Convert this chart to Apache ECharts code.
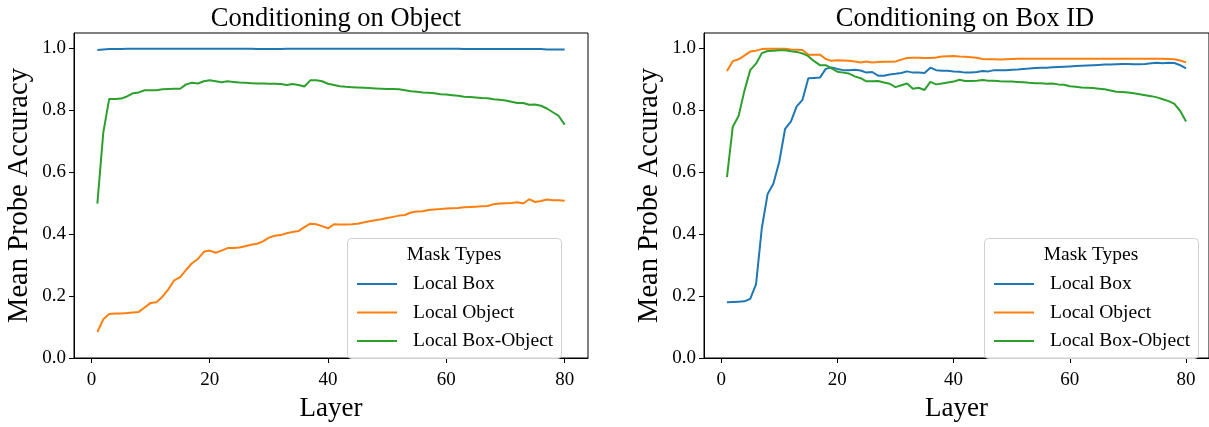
<!DOCTYPE html>
<html>
<head>
<meta charset="utf-8">
<script src="https://cdn.jsdelivr.net/npm/echarts@6/dist/echarts.min.js"></script>
<style>
html,body{margin:0;padding:0;background:#fff;}
#chart{width:1209px;height:427px;}
</style>
</head>
<body>
<div id="chart"></div>
<script>
const layers = Array.from({length: 80}, (_, i) => i + 1);
const xTicks = [0, 20, 40, 60, 80];
const yTicks = [0, 0.2, 0.4, 0.6, 0.8, 1.0];
const seriesNames = ['Local Box', 'Local Object', 'Local Box-Object'];
const titles = ['Conditioning on Object', 'Conditioning on Box ID'];
const legendTitle = 'Mask Types';
const xName = 'Layer';
const yName = 'Mean Probe Accuracy';

const leftBox = [
  0.995,0.997,0.998,0.998,0.998,0.999,0.999,0.999,0.999,0.999,
  0.999,0.999,0.999,0.999,0.999,0.999,0.999,0.999,0.999,0.999,
  0.999,0.999,0.999,0.999,0.999,0.999,0.999,0.998,0.998,0.998,
  0.998,0.998,0.999,0.999,0.999,0.999,0.999,0.999,0.999,0.999,
  0.999,0.999,0.999,0.999,0.999,0.999,0.999,0.999,0.999,0.999,
  0.999,0.999,0.999,0.999,0.999,0.999,0.999,0.999,0.999,0.999,
  0.999,0.999,0.998,0.998,0.998,0.998,0.998,0.998,0.998,0.998,
  0.998,0.998,0.998,0.998,0.998,0.998,0.997,0.997,0.997,0.997
];
const leftObject = [
  0.084,0.125,0.142,0.144,0.144,0.145,0.147,0.149,0.163,0.178,
  0.180,0.198,0.222,0.251,0.261,0.285,0.306,0.320,0.343,0.347,
  0.340,0.347,0.355,0.355,0.357,0.361,0.366,0.369,0.377,0.389,
  0.395,0.397,0.403,0.407,0.410,0.423,0.434,0.432,0.426,0.419,
  0.432,0.431,0.431,0.432,0.434,0.438,0.442,0.445,0.448,0.452,
  0.456,0.460,0.462,0.470,0.473,0.474,0.478,0.480,0.481,0.483,
  0.484,0.485,0.487,0.488,0.489,0.490,0.491,0.497,0.499,0.500,
  0.501,0.503,0.499,0.513,0.504,0.507,0.512,0.510,0.510,0.508
];
const leftBoxObject = [
  0.499,0.728,0.837,0.837,0.838,0.845,0.855,0.858,0.865,0.865,
  0.865,0.868,0.869,0.870,0.870,0.884,0.889,0.887,0.894,0.897,
  0.894,0.891,0.894,0.892,0.890,0.889,0.888,0.887,0.887,0.886,
  0.886,0.885,0.882,0.885,0.882,0.877,0.897,0.897,0.894,0.886,
  0.882,0.878,0.876,0.875,0.874,0.873,0.872,0.871,0.870,0.869,
  0.869,0.868,0.865,0.862,0.860,0.858,0.857,0.855,0.852,0.851,
  0.849,0.847,0.844,0.843,0.842,0.840,0.839,0.836,0.834,0.832,
  0.828,0.824,0.824,0.818,0.819,0.815,0.806,0.794,0.782,0.754
];
const rightBox = [
  0.180,0.181,0.182,0.183,0.191,0.238,0.420,0.530,0.564,0.634,
  0.740,0.764,0.813,0.834,0.904,0.905,0.906,0.934,0.939,0.934,
  0.930,0.930,0.931,0.929,0.922,0.924,0.912,0.912,0.916,0.918,
  0.921,0.926,0.922,0.922,0.921,0.938,0.930,0.928,0.928,0.926,
  0.925,0.922,0.922,0.924,0.927,0.926,0.930,0.930,0.930,0.931,
  0.932,0.934,0.935,0.937,0.938,0.938,0.939,0.940,0.941,0.942,
  0.943,0.944,0.945,0.946,0.947,0.948,0.948,0.949,0.950,0.950,
  0.949,0.949,0.950,0.952,0.954,0.952,0.954,0.953,0.946,0.936
];
const rightObject = [
  0.927,0.959,0.965,0.977,0.990,0.993,0.998,0.999,0.999,0.999,
  0.999,0.997,0.996,0.995,0.980,0.980,0.980,0.966,0.960,0.962,
  0.961,0.960,0.958,0.955,0.958,0.955,0.956,0.957,0.957,0.958,
  0.964,0.969,0.970,0.970,0.969,0.969,0.971,0.974,0.975,0.976,
  0.974,0.973,0.972,0.970,0.966,0.965,0.965,0.964,0.965,0.966,
  0.967,0.967,0.967,0.967,0.967,0.967,0.967,0.967,0.967,0.967,
  0.967,0.967,0.967,0.967,0.967,0.967,0.967,0.967,0.967,0.967,
  0.967,0.967,0.967,0.967,0.967,0.967,0.966,0.965,0.961,0.955
];
const rightBoxObject = [
  0.584,0.747,0.782,0.863,0.930,0.951,0.985,0.992,0.993,0.994,
  0.994,0.991,0.989,0.984,0.975,0.959,0.946,0.946,0.936,0.925,
  0.922,0.919,0.910,0.904,0.894,0.894,0.895,0.890,0.886,0.875,
  0.881,0.887,0.870,0.873,0.866,0.892,0.884,0.887,0.890,0.893,
  0.899,0.895,0.895,0.896,0.898,0.896,0.896,0.894,0.893,0.893,
  0.892,0.891,0.889,0.888,0.888,0.886,0.887,0.884,0.883,0.878,
  0.876,0.874,0.873,0.872,0.870,0.868,0.864,0.860,0.859,0.858,
  0.855,0.852,0.849,0.846,0.842,0.836,0.830,0.821,0.798,0.764
];

const colors = ['#1f77b4', '#ff7f0e', '#2ca02c'];
const FONT = '"Liberation Serif", "Times New Roman", serif';

const panels = [
  {grid: {left: 74, top: 33, width: 514, height: 336}, data: [leftBox, leftObject, leftBoxObject], legendBox: {x: 347, y: 238}},
  {grid: {left: 704, top: 33, width: 512, height: 336}, data: [rightBox, rightObject, rightBoxObject], legendBox: {x: 984, y: 238}}
];

const toPairs = arr => layers.map((l, i) => [l, arr[i]]);

const option = {
  animation: false,
  backgroundColor: '#fff',
  color: colors,
  title: panels.map((p, i) => ({
    text: titles[i],
    left: p.grid.left + p.grid.width / 2,
    textAlign: 'center',
    top: 1,
    textStyle: {fontFamily: FONT, fontSize: 26.5, fontWeight: 'normal', color: '#000'}
  })),
  grid: panels.map(p => Object.assign({show: true, borderColor: '#000', borderWidth: 1, backgroundColor: 'transparent'}, p.grid)),
  xAxis: panels.map((p, i) => ({
    type: 'value', gridIndex: i, min: -2.95, max: 83.95,
    name: xName, nameLocation: 'middle', nameGap: 37,
    nameTextStyle: {fontFamily: FONT, fontSize: 27, color: '#000'},
    axisLine: {show: true, onZero: false, lineStyle: {color: '#000', width: 1}},
    axisTick: {show: true, length: 5, customValues: xTicks, lineStyle: {color: '#000'}},
    axisLabel: {customValues: xTicks, margin: 13, fontFamily: FONT, fontSize: 19, color: '#000'},
    splitLine: {show: false}
  })),
  yAxis: panels.map((p, i) => ({
    type: 'value', gridIndex: i, min: 0, max: 1.05,
    name: yName, nameLocation: 'middle', nameGap: 40,
    nameTextStyle: {fontFamily: FONT, fontSize: 28.5, color: '#000'},
    axisLine: {show: true, onZero: false, lineStyle: {color: '#000', width: 1}},
    axisTick: {show: true, length: 5, customValues: yTicks, lineStyle: {color: '#000'}},
    axisLabel: {customValues: yTicks, margin: 8, fontFamily: FONT, fontSize: 19, color: '#000', formatter: v => v.toFixed(1)},
    splitLine: {show: false}
  })),
  legend: panels.map(p => ({
    orient: 'vertical',
    left: p.legendBox.x + 10,
    top: p.legendBox.y + 36,
    padding: 0,
    z: 20,
    data: seriesNames,
    icon: 'rect',
    itemWidth: 40,
    itemHeight: 2,
    itemGap: 8.5,
    selectedMode: false,
    textStyle: {fontFamily: FONT, fontSize: 19.5, color: '#000', lineHeight: 20, padding: [0, 0, 0, 11]}
  })),
  graphic: panels.flatMap(p => [
    {type: 'rect', left: p.legendBox.x, top: p.legendBox.y, z: 3, shape: {width: 214, height: 120, r: 4},
     style: {fill: 'rgba(255,255,255,0.8)', stroke: '#d0d0d0', lineWidth: 1}},
    {type: 'text', x: p.legendBox.x + 107, y: p.legendBox.y + 17, z: 21,
     style: {text: legendTitle, font: '19.5px ' + FONT, fill: '#000', textAlign: 'center', textVerticalAlign: 'middle'}}
  ]),
  series: panels.flatMap((p, gi) => p.data.map((arr, si) => ({
    name: seriesNames[si], type: 'line', xAxisIndex: gi, yAxisIndex: gi,
    data: toPairs(arr), showSymbol: false, symbol: 'none', z: 2,
    lineStyle: {width: 2, color: colors[si]}, itemStyle: {color: colors[si]}
  })))
};

const chart = echarts.init(document.getElementById('chart'), null, {renderer: 'canvas'});
chart.setOption(option);
</script>
</body>
</html>
